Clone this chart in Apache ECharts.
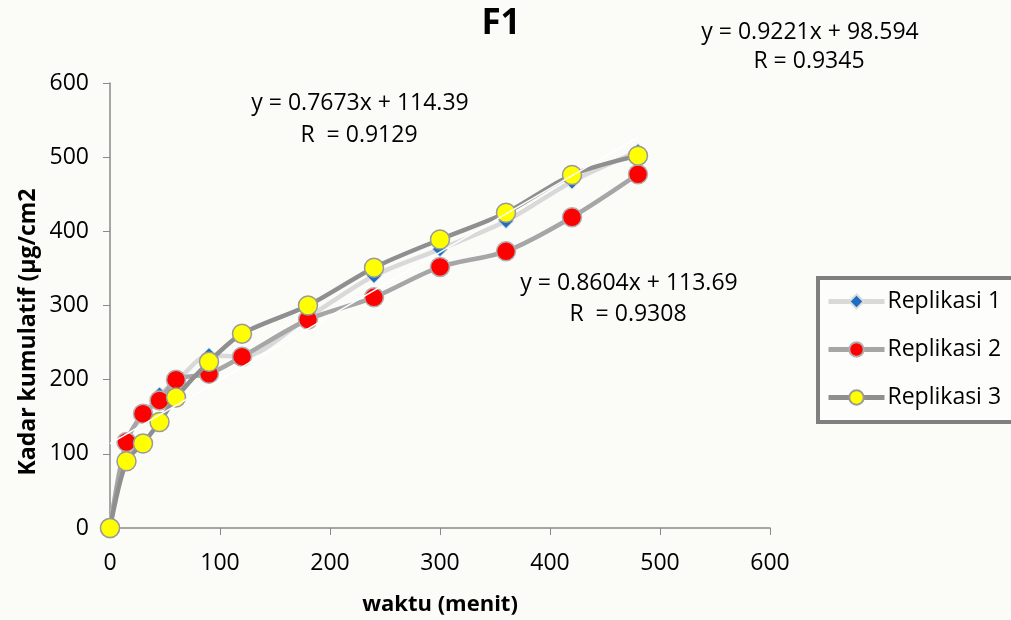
<!DOCTYPE html>
<html>
<head>
<meta charset="utf-8">
<script src="https://cdn.jsdelivr.net/npm/echarts@6/dist/echarts.min.js"></script>
<style>html,body{margin:0;padding:0;background:#fbfbf8;}#c{width:1011px;height:620px;}</style>
</head>
<body>
<div id="c"></div>
<script>
const times = [0, 15, 30, 45, 60, 90, 120, 180, 240, 300, 360, 420, 480];
const replikasi1 = [0, 118, 152, 180, 197, 233, 231, 284, 340, 376, 414, 467, 508];
const replikasi2 = [0, 116, 154, 172, 200, 208, 231, 281, 311, 352, 373, 419, 477];
const replikasi3 = [0, 90, 114, 143, 176, 224, 262, 300, 351, 389, 425, 476, 502];
const seriesNames = ['Replikasi 1', 'Replikasi 2', 'Replikasi 3'];
const trendSlope = 0.8604, trendIntercept = 113.69;
const trendRange = [0, 480];
const equations = [
  ['y = 0.9221x + 98.594', 'R = 0.9345'],
  ['y = 0.7673x + 114.39', 'R  = 0.9129'],
  ['y = 0.8604x + 113.69', 'R  = 0.9308']
];

const font = '"Open Sans", sans-serif';
const pair = arr => times.map((t, i) => [t, arr[i]]);
const trendData = trendRange.map(x => [x, trendSlope * x + trendIntercept]);

function label(text, x, y, size, bold, rot) {
  return {
    type: 'text', x: x, y: y, rotation: rot || 0, z: 10,
    style: {
      text: text, fill: '#000', align: 'center', verticalAlign: 'middle',
      font: (bold ? 'bold ' : '') + size + 'px ' + font
    }
  };
}

const chart = echarts.init(document.getElementById('c'));
chart.setOption({
  backgroundColor: '#fbfbf8',
  animation: false,
  grid: { left: 110, right: 241, top: 83, bottom: 92, containLabel: false },
  xAxis: {
    type: 'value', min: 0, max: 600, interval: 100,
    axisLine: { lineStyle: { color: '#8a8a8a', width: 1.5 } },
    axisTick: { show: true, length: 7, lineStyle: { color: '#8a8a8a' } },
    axisLabel: { fontFamily: font, fontSize: 23, color: '#000', margin: 24 },
    splitLine: { show: false }
  },
  yAxis: {
    type: 'value', min: 0, max: 600, interval: 100,
    axisLine: { show: true, lineStyle: { color: '#8a8a8a', width: 1.5 } },
    axisTick: { show: true, length: 7, lineStyle: { color: '#8a8a8a' } },
    axisLabel: { fontFamily: font, fontSize: 23, color: '#000', margin: 21 },
    splitLine: { show: false }
  },
  legend: {
    orient: 'vertical', left: 818, top: 278,
    padding: [12, 40, 13, 8], itemGap: 25,
    itemWidth: 56, itemHeight: 18,
    lineStyle: { width: 5 },
    borderColor: '#7f7f7f', borderWidth: 4, backgroundColor: '#fdfdfb',
    textStyle: { fontFamily: font, fontSize: 23, color: '#000', padding: [0, 0, 0, -2] },
    data: seriesNames
  },
  series: [
    {
      name: seriesNames[0], type: 'line', data: pair(replikasi1), smooth: 0.3, z: 2,
      symbol: 'diamond', symbolSize: 15,
      lineStyle: { color: '#d9d9d9', width: 4.5 },
      itemStyle: { color: '#1f6fc0', borderColor: '#dddddd', borderWidth: 1 }
    },
    {
      name: seriesNames[1], type: 'line', data: pair(replikasi2), smooth: 0.3, z: 3,
      symbol: 'circle', symbolSize: 19,
      lineStyle: { color: '#a6a6a6', width: 4.5 },
      itemStyle: { color: '#ff0000', borderColor: '#b0b0b0', borderWidth: 1.5 }
    },
    {
      name: seriesNames[2], type: 'line', data: pair(replikasi3), smooth: 0.3, z: 4,
      symbol: 'circle', symbolSize: 19,
      lineStyle: { color: '#8f8f8f', width: 4.5 },
      itemStyle: { color: '#ffff00', borderColor: '#9a9a9a', borderWidth: 1.5 }
    },
    {
      name: 'trend', type: 'line', data: trendData, z: 5, silent: true,
      symbol: 'none', lineStyle: { color: '#ffffff', width: 1.5 }
    }
  ],
  graphic: [
    label('F1', 501, 24, 35, true),
    label(equations[0][0], 810, 32, 23),
    label(equations[0][1], 809, 61, 23),
    label(equations[1][0], 360, 103, 23),
    label(equations[1][1], 359, 135, 23),
    label(equations[2][0], 629, 283, 23),
    label(equations[2][1], 628, 314, 23),
    label('waktu (menit)', 440, 605, 22, true),
    label('Kadar kumulatif (µg/cm2', 28, 332, 23, true, Math.PI / 2)
  ]
});
</script>
</body>
</html>
